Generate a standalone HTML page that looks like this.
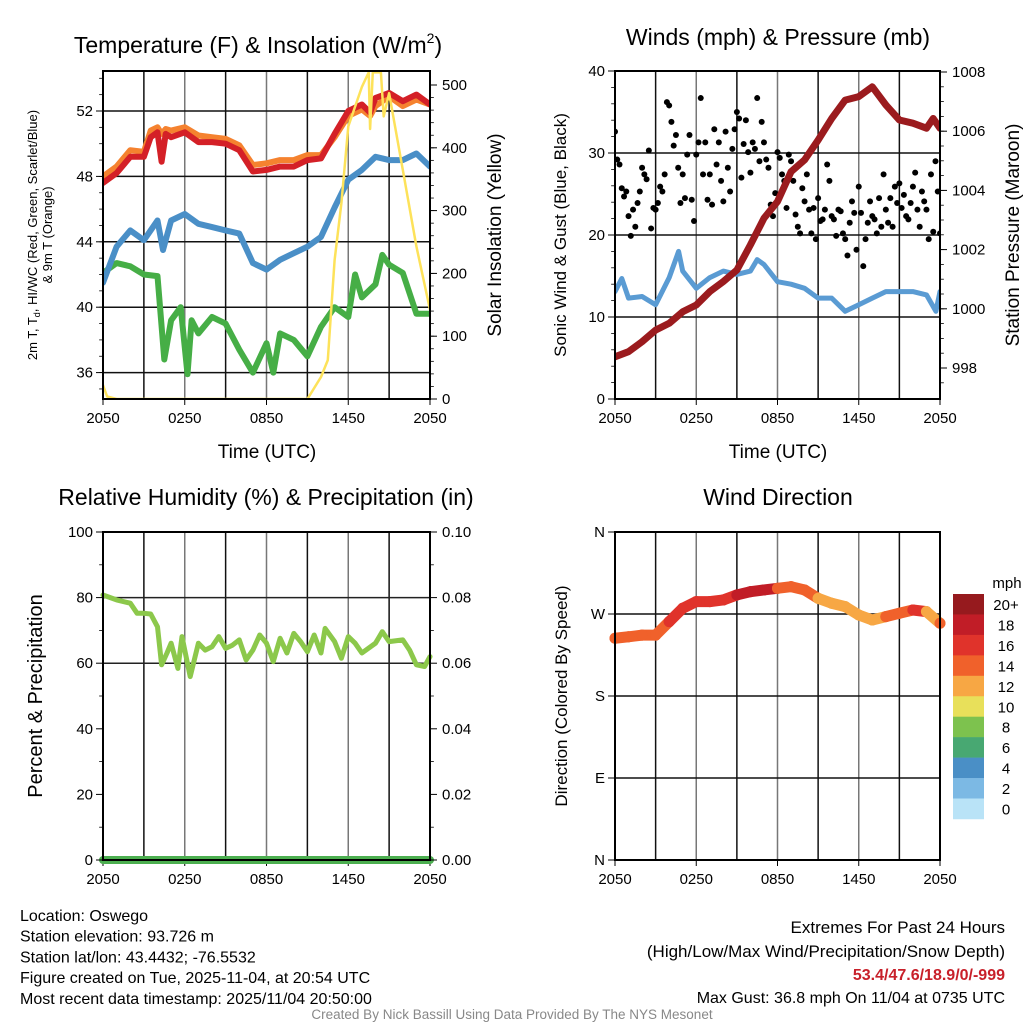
<!DOCTYPE html>
<html><head><meta charset="utf-8"><style>
html,body{margin:0;padding:0;background:#fff;}
svg{display:block;font-family:"Liberation Sans",sans-serif;}
</style></head><body>
<svg id="chart" width="1024" height="1024" viewBox="0 0 1024 1024" xmlns="http://www.w3.org/2000/svg">
<rect width="1024" height="1024" fill="#fff"/>
<g id="layer"></g>
</svg>
<script>
// ---------- DATA ----------
const xTickLabels = ["2050","0250","0850","1450","2050"];
// Panel 1: temperature (F), hours since 2050 UTC
const tTime = [0,1,2,3,3.5,4,4.3,4.6,5,6,7,8,9,10,11,12,13,14,15,16,17,18,19,19.6,20,21,22,23,24];
const tRed  = [47.6,48.2,49.2,49.2,50.4,50.7,48.9,50.6,50.4,50.7,50.1,50.1,50.0,49.6,48.3,48.4,48.6,48.6,49.0,49.1,50.6,52.0,52.4,51.9,52.8,53.1,52.6,53.0,52.4];
const tOrange=[48.0,48.6,49.6,49.5,50.8,51.0,50.6,50.9,50.8,51.0,50.5,50.4,50.3,49.9,48.7,48.8,49.0,49.0,49.3,49.3,50.4,51.7,52.1,51.7,52.3,52.9,52.3,52.7,52.4];
const blueTime=[0,1,2,3,4,4.4,5,6,7,8,9,10,11,12,13,14,15,16,17,18,19,20,21,22,23,24];
const tBlue = [41.5,43.7,44.7,44.1,45.3,43.5,45.3,45.7,45.1,44.9,44.7,44.5,42.7,42.3,42.9,43.3,43.7,44.3,46.1,47.8,48.4,49.2,49.0,49.0,49.4,48.6];
const greenTime=[0,1,2,3,4,4.5,5,5.7,6.2,6.5,7,8,9,10,11,12,12.5,13,14,15,16,17,18,18.5,19,20,20.5,21,22,23,24];
const tGreen=[42.1,42.7,42.5,42.0,41.9,36.8,39.2,40.0,35.9,39.2,38.4,39.4,39.0,37.4,36.0,37.8,36.0,38.4,38.0,37.0,38.8,40.0,39.4,42.0,40.6,41.4,43.2,42.6,42.1,39.6,39.6];
const solarTime=[0,0.3,1,15,16,16.5,17,17.5,18,19,19.5,19.6,19.8,20,20.4,20.6,21,22,23,24];
const solar = [22,4,0,0,35,62,221,312,434,497,520,430,520,520,520,450,487,365,243,142];
// Panel 2: winds (mph) and pressure (mb)
const windTime=[0,0.5,1,2,3,4,4.7,5,6,7,8,9,10,10.5,11,12,13,14,15,16,17,18,19,20,21,22,23,23.7,24];
const windSpd=[13.1,14.7,12.3,12.5,11.5,14.8,18.0,15.6,13.5,14.8,15.6,15.2,15.6,17.0,16.4,14.3,14.0,13.5,12.3,12.3,10.7,11.5,12.3,13.1,13.1,13.1,12.7,10.7,13.1];
const gusts=[32.6,29.2,28.6,25.7,24.7,25.3, 22.3,19.9,23.1,21.0,23.9,25.3, 28.2,27.4,26.8,30.3,20.8,23.3, 23.1,23.9,25.9,25.3,27.4,36.2,
 35.8,33.8,30.9,32.2,28.2,23.9, 27.4,24.5,29.8,32.2,24.3,21.7, 29.8,31.3,36.7,27.4,31.3,24.3, 27.4,23.7,32.9,28.6,31.3,26.6,
 24.1,32.6,28.2,25.3,30.5,32.9, 35.0,34.2,27.0,31.1,34.0,30.1, 27.6,31.3,30.5,36.7,29.0,33.8, 31.3,29.2,28.2,23.7,22.3,25.1,
 30.1,29.4,27.4,26.6,23.3,29.8, 29.0,26.6,22.5,21.0,20.2,25.7, 24.1,27.4,23.1,20.2,23.3,19.5, 24.5,21.7,21.9,23.1,28.6,26.6,
 22.3,21.9,19.9,23.1,22.9,20.2, 19.5,17.5,21.5,24.1,22.7,18.2, 25.9,22.7,16.2,19.5,21.5,24.1, 22.3,21.9,20.2,24.5,21.0,27.4,
 23.1,21.5,24.5,21.0,25.9,23.9, 26.3,23.3,24.9,22.3,21.9,23.9, 25.9,27.6,23.1,21.0,25.3,24.1, 23.1,19.5,27.4,20.4,29.0,25.3, 20.2];
const presTime=[0,1,2,3,4,5,6,7,8,9,10,11,12,13,14,15,16,17,18,19,20,21,22,23,23.5,24];
const pressure=[998.38,998.55,998.89,999.28,999.51,999.90,1000.13,1000.58,1000.92,1001.31,1002.16,1003.06,1003.62,1004.63,1005.03,1005.70,1006.43,1007.05,1007.17,1007.5,1006.89,1006.38,1006.27,1006.10,1006.43,1006.10];
// Panel 3: relative humidity (%) and precip (in)
const rhTime=[0,1,2,2.5,3,3.5,4,4.3,4.7,5,5.5,5.8,6.4,7,7.5,8,8.5,9,9.5,10,10.5,11,11.5,12,12.5,13,13.5,14,14.5,15,15.5,16,16.3,17,17.5,18,18.5,19,20,20.5,21,22,22.5,23,23.6,24];
const rh=[80.8,79.3,78.3,75.2,75.2,75.0,71.1,59.5,63.1,66.1,58.4,68.1,55.9,66.1,64.0,65.0,68.1,64.5,65.5,67.1,61.0,64.0,68.6,66.1,60.5,67.6,63.1,69.1,66.6,63.5,68.6,63.1,70.6,66.6,61.5,68.1,66.1,63.1,66.1,69.6,66.6,67.1,64.0,59.5,59.0,62.0];
const precipTime=[0,24];
const precip=[0,0];
// Panel 4: wind direction (deg) colored by speed (mph)
const dirTime=[0,1,2,3,4,5,6,7,8,9,10,11,12,13,14,15,16,17,18,19,20,21,22,23,24];
const direction=[243.4,245,246.8,246.8,261.6,276.3,283.6,283.6,285.4,290.9,294.5,296.4,298.2,300,296.4,287.2,281.8,278.1,268.9,263.4,267.1,270.8,274.4,272.6,259.8];
const dirSpeed=[15,14,15,14,17,17,16,17,17,18,18,19,15,14,14,13,12,12,13,12,14,15,16,13,14];
const cbLabels=["20+","18","16","14","12","10","8","6","4","2","0"];
const cbColors=["#961a1e","#c11d27","#e0332b","#f0612b","#f7a744","#e8e05a","#7dc24e","#48a872","#4a8fc6","#7cb9e4","#b9e3f7"];

// ---------- HELPERS ----------
const NS="http://www.w3.org/2000/svg";
const layer=document.getElementById('layer');
function mk(tag,attrs,parent){const e=document.createElementNS(NS,tag);for(const k in attrs)e.setAttribute(k,attrs[k]);(parent||layer).appendChild(e);return e;}
function txt(s,x,y,size,anchor,extra){const e=mk('text',Object.assign({x:x,y:y,'font-size':size,'text-anchor':anchor||'middle',fill:'#000'},extra||{}));e.textContent=s;return e;}
function lin(d0,d1,r0,r1){return v=>r0+(v-d0)*(r1-r0)/(d1-d0);}
function pathD(xs,ys,fx,fy){return xs.map((t,i)=>(i?'L':'M')+fx(t).toFixed(1)+','+fy(ys[i]).toFixed(1)).join('');}

const P1={l:103,r:430,t:71,b:399};
const P2={l:615,r:940,t:71,b:399};
const P3={l:103,r:430,t:532,b:860};
const P4={l:615,r:940,t:532,b:860};

function vgrid(P){
  const fx=lin(0,24,P.l,P.r);
  for(let h=3;h<24;h+=3){const g=mk('line',{x1:fx(h),x2:fx(h),y1:P.t,y2:P.b,stroke:h%6===0?'#777':'#111','stroke-width':1.5});
  
  }
  xTickLabels.forEach((s,i)=>{const x=fx(i*6);const tk=mk('line',{x1:x,x2:x,y1:P.b,y2:P.b+6,stroke:'#000','stroke-width':1});
  
  
  const l=txt(s,x,P.b+24,15);
  
  });
}
function hgrid(P,ys,col){ys.forEach(y=>{const g=mk('line',{x1:P.l,x2:P.r,y1:y,y2:y,stroke:col||'#111','stroke-width':1.5});
  
  });}
function frame(P){const f=mk('rect',{x:P.l,y:P.t,width:P.r-P.l,height:P.b-P.t,fill:'none',stroke:'#000','stroke-width':2});
  
  }
function yAxis(P,side,fy,majors,minors,fmt){
  const x=side==='l'?P.l:P.r, d=side==='l'?-7:7;
  majors.forEach(v=>{const y=fy(v);const t=mk('line',{x1:x,x2:x+d,y1:y,y2:y,stroke:'#000','stroke-width':1});
    
    
    const l=txt(fmt(v),side==='l'?x-10:x+12,y+5,15,side==='l'?'end':'start');
    
    });
  minors.forEach(v=>{const y=fy(v);const t=mk('line',{x1:x,x2:x+d*0.55,y1:y,y2:y,stroke:'#000','stroke-width':0.8});
    
    });
}
function rot(s,x,y,size,name){const e=txt(s,x,y,size,'middle',{transform:`rotate(-90 ${x} ${y})`});
  
  return e;}
function range(a,b,s){const r=[];for(let v=a;v<=b+1e-9;v+=s)r.push(+v.toFixed(3));return r;}
function series(xs,ys,fx,fy,color,w,name){const p=mk('path',{d:pathD(xs,ys,fx,fy),fill:'none',stroke:color,'stroke-width':w,'stroke-linejoin':'round','stroke-linecap':'round'});
  
  return p;}

// ---------- PANEL 1 ----------
{
 const P=P1, fx=lin(0,24,P.l,P.r), fy=lin(36,52,372.6,111), fs=lin(0,500,399,85);
 vgrid(P); hgrid(P,[52,48,44,40,36].map(fy));
 const clip=mk('clipPath',{id:'c1'}); mk('rect',{x:P.l,y:P.t,width:P.r-P.l,height:P.b-P.t},clip);
 const g=mk('g',{'clip-path':'url(#c1)'});
 
 
 [[greenTime,tGreen,'#46ae46','dewpoint-line'],[blueTime,tBlue,'#4a8fc7','wind-chill-line'],[tTime,tOrange,'#f5822f','9m-temperature-line'],[tTime,tRed,'#d42027','2m-temperature-line']].forEach(s=>{
   const p=series(s[0],s[1],fx,fy,s[2],6,s[3]); g.appendChild(p);});
 const sp=series(solarTime,solar,fx,fs,'#fde25a',2.5,'solar-insolation-line'); g.appendChild(sp);
 frame(P);
 yAxis(P,'l',fy,[36,40,44,48,52],range(35,54,1),v=>String(v));
 yAxis(P,'r',fs,[0,100,200,300,400,500],range(20,500,20),v=>String(v));
 const t=txt('Temperature (F) & Insolation (W/m',258,53,23);
 
 
 const ts=mk('tspan',{'font-size':14,dy:-10}); ts.textContent='2'; t.appendChild(ts);
 const ts2=mk('tspan',{dy:10}); ts2.textContent=')'; t.appendChild(ts2);
 const xt=txt('Time (UTC)',267,458,19);  
 const yl=txt('',37,235,13,'middle',{transform:'rotate(-90 37 235)'});
 
 
 yl.innerHTML='2m T, T<tspan font-size="9" dy="3">d</tspan><tspan dy="-3">, HI/WC (Red, Green, Scarlet/Blue)</tspan>';
 rot('& 9m T (Orange)',52,235,13,'temperature-y-axis-title-line2');
 rot('Solar Insolation (Yellow)',501,235,19,'solar-y-axis-title');
}
// ---------- PANEL 2 ----------
{
 const P=P2, fx=lin(0,24,P.l,P.r), fy=lin(0,40,399,71), fp=lin(998,1008,368,72);
 vgrid(P); hgrid(P,[10,20,30].map(fy));
 const clip=mk('clipPath',{id:'c2'}); mk('rect',{x:P.l,y:P.t,width:P.r-P.l,height:P.b-P.t},clip);
 const g=mk('g',{'clip-path':'url(#c2)'});
 
 
 g.appendChild(series(windTime,windSpd,fx,fy,'#5a9bd3',5,'sustained-wind-line'));
 gusts.forEach((v,i)=>{const c=mk('circle',{cx:fx(i*24/(gusts.length-1)),cy:fy(v),r:3,fill:'#000'},g);
   
   });
 g.appendChild(series(presTime,pressure,fx,fp,'#9b1b1e',7,'pressure-line'));
 frame(P);
 yAxis(P,'l',fy,[0,10,20,30,40],range(2,38,2),v=>String(v));
 yAxis(P,'r',fp,[998,1000,1002,1004,1006,1008],range(997.5,1008,0.5),v=>String(v));
 const t=txt('Winds (mph) & Pressure (mb)',778,45,23);  
 const xt=txt('Time (UTC)',778,458,19);  
 rot('Sonic Wind & Gust (Blue, Black)',566,235,17,'wind-y-axis-title');
 rot('Station Pressure (Maroon)',1019,235,19,'pressure-y-axis-title');
}
// ---------- PANEL 3 ----------
{
 const P=P3, fx=lin(0,24,P.l,P.r), fy=lin(0,100,860,532), fr=lin(0,0.1,860,532);
 vgrid(P); hgrid(P,[fy(80),fy(60)],'#222');
 series(rhTime,rh,fx,fy,'#8cc84b',5,'relative-humidity-line');
 series(precipTime,precip,fx,fr,'#4caf50',8,'precipitation-line');
 frame(P);
 yAxis(P,'l',fy,[0,20,40,60,80,100],range(10,90,20),v=>String(v));
 yAxis(P,'r',fr,[0,0.02,0.04,0.06,0.08,0.1],range(0.01,0.09,0.02),v=>v.toFixed(2));
 const t=txt('Relative Humidity (%) & Precipitation (in)',266,505,23);  
 rot('Percent & Precipitation',42,696,20,'humidity-y-axis-title');
}
// ---------- PANEL 4 ----------
{
 const P=P4, fx=lin(0,24,P.l,P.r), fy=lin(0,360,860,532);
 vgrid(P); hgrid(P,[90,180,270].map(fy));
 function spdColor(s){const i=Math.min(10,Math.floor(s/2));return cbColors[10-i];}
 for(let i=0;i<dirTime.length-1;i++){
   const seg=mk('line',{x1:fx(dirTime[i]),y1:fy(direction[i]),x2:fx(dirTime[i+1]),y2:fy(direction[i+1]),stroke:spdColor(dirSpeed[i]),'stroke-width':11,'stroke-linecap':'round'});
   
   
 }
 dirTime.forEach((t,i)=>{const c=mk('circle',{cx:fx(t),cy:fy(direction[i]),r:5.5,fill:spdColor(dirSpeed[i])});
   
   });
 frame(P);
 yAxis(P,'l',fy,[0,90,180,270,360],[],v=>({0:'N',90:'E',180:'S',270:'W',360:'N'})[v]);
 const t=txt('Wind Direction',778,505,23);  
 rot('Direction (Colored By Speed)',567,696,17,'direction-y-axis-title');
 const cbTop=594, cbH=20.45;
 cbColors.forEach((c,i)=>{const r=mk('rect',{x:953,y:cbTop+i*cbH,width:31,height:cbH+0.3,fill:c});
   
   
   const l=txt(cbLabels[i],1006,cbTop+i*cbH+16,15);
   
   });
 const u=txt('mph',1007,588,15);  
}
// ---------- FOOTER TEXT ----------
{
 const left=["Location: Oswego","Station elevation: 93.726 m","Station lat/lon: 43.4432; -76.5532","Figure created on Tue, 2025-11-04, at 20:54 UTC","Most recent data timestamp: 2025/11/04 20:50:00"];
 left.forEach((s,i)=>{const e=txt(s,20,921+i*20.7,16,'start');
   
   });
 const r1=txt('Extremes For Past 24 Hours',1005,933,17,'end');  
 const r2=txt('(High/Low/Max Wind/Precipitation/Snow Depth)',1005,957,17,'end');  
 const r3=txt('53.4/47.6/18.9/0/-999',1005,980,16,'end',{fill:'#c8202a','font-weight':'bold'});  
 const r4=txt('Max Gust: 36.8 mph On 11/04 at 0735 UTC',1005,1003,16,'end');  
 const cr=txt('Created By Nick Bassill Using Data Provided By The NYS Mesonet',512,1019,13.5,'middle',{fill:'#888'});  
}
</script>
</body></html>
